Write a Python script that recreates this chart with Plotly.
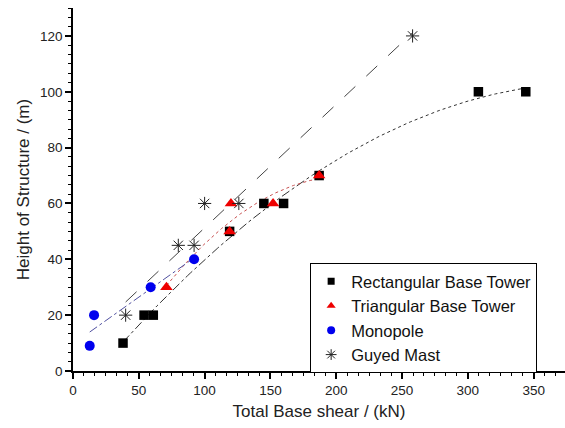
import numpy as np
import plotly.graph_objects as go

# ---- data ----
rect_x = [38, 54, 61, 119, 145, 160, 187, 308, 344]
rect_y = [10, 20, 20, 50, 60, 60, 70, 100, 100]
tri_x = [71, 119, 120, 152, 187]
tri_y = [30, 50, 60, 60, 70]
mono_x = [12.7, 16, 59, 92]
mono_y = [9, 20, 30, 40]
guy_x = [40, 80, 92, 100, 126, 258]
guy_y = [20, 45, 45, 60, 60, 120]

x_ticks = [0, 50, 100, 150, 200, 250, 300, 350]
y_ticks = [0, 20, 40, 60, 80, 100, 120]

FONT = "Liberation Sans, Arial, sans-serif"

def fit(xs, ys, deg, n=120):
    c = np.polyfit(xs, ys, deg)
    xx = np.linspace(min(xs), max(xs), n)
    return xx, np.polyval(c, xx)

fig = go.Figure()

# fitted trend lines
rx, ry = fit(rect_x, rect_y, 2)
split = rect_x[6]
lo = rx <= split
fig.add_trace(go.Scatter(x=rx[lo], y=ry[lo], mode="lines", xaxis="x2", yaxis="y2",
                         line=dict(color="#333333", width=1, dash="dashdot"), showlegend=False, hoverinfo="skip"))
fig.add_trace(go.Scatter(x=rx[~lo], y=ry[~lo], mode="lines", xaxis="x2", yaxis="y2",
                         line=dict(color="#333333", width=1, dash="dot"), showlegend=False, hoverinfo="skip"))
tx, ty = fit(tri_x, tri_y, 2)
fig.add_trace(go.Scatter(x=tx, y=ty, mode="lines", xaxis="x2", yaxis="y2",
                         line=dict(color="#c85050", width=1, dash="dot"), showlegend=False, hoverinfo="skip"))
mx, my = fit(mono_x, mono_y, 1)
fig.add_trace(go.Scatter(x=mx, y=my, mode="lines", xaxis="x2", yaxis="y2",
                         line=dict(color="#5050a0", width=1, dash="dashdot"), showlegend=False, hoverinfo="skip"))
gx, gy = fit(guy_x, guy_y, 1)
fig.add_trace(go.Scatter(x=gx, y=gy, mode="lines", xaxis="x2", yaxis="y2",
                         line=dict(color="#444444", width=1, dash="longdash"), showlegend=False, hoverinfo="skip"))

# data markers
fig.add_trace(go.Scatter(x=rect_x, y=rect_y, mode="markers", xaxis="x2", yaxis="y2", showlegend=False,
                         marker=dict(symbol="square", size=9.5, color="black")))
fig.add_trace(go.Scatter(x=tri_x, y=tri_y, mode="markers", xaxis="x2", yaxis="y2", showlegend=False,
                         marker=dict(symbol="triangle-up", size=11, color="#ee0000")))
fig.add_trace(go.Scatter(x=mono_x, y=mono_y, mode="markers", xaxis="x2", yaxis="y2", showlegend=False,
                         marker=dict(symbol="circle", size=10, color="#0000ee")))
fig.add_trace(go.Scatter(x=guy_x, y=guy_y, mode="markers", xaxis="x2", yaxis="y2", showlegend=False,
                         marker=dict(symbol="asterisk-open", size=11, color="#222222",
                                     line=dict(color="#222222", width=1))))

# legend entries
for name, sym, col, sz in [("Rectangular Base Tower", "square", "black", 7),
                           ("Triangular Base Tower", "triangle-up", "#ee0000", 8),
                           ("Monopole", "circle", "#0000ee", 8),
                           ("Guyed Mast", "asterisk-open", "#222222", 9)]:
    mk = dict(symbol=sym, size=sz, color=col)
    if sym == "asterisk-open":
        mk["line"] = dict(color=col, width=1)
    fig.add_trace(go.Scatter(x=[None], y=[None], mode="markers", xaxis="x2", yaxis="y2",
                             name=name, marker=mk))

XR = [0, 373.8]
YR = [0, 130]

fig.update_layout(
    width=565, height=428,
    margin=dict(l=73, r=0, t=8, b=57),
    paper_bgcolor="white", plot_bgcolor="white",
    font=dict(family=FONT, size=14, color="#222222"),
    xaxis=dict(range=XR, side="top", showline=True, linecolor="#a0a0a0", linewidth=1.5,
               showgrid=True, gridcolor="#d6d6d6", gridwidth=1, tick0=0, dtick=50/3,
               showticklabels=False, ticks="", zeroline=False, fixedrange=True),
    yaxis=dict(range=YR, showline=False, showgrid=True, gridcolor="#d6d6d6", gridwidth=1,
               tick0=0, dtick=20/3, showticklabels=False, ticks="", zeroline=False),
    xaxis2=dict(range=XR, overlaying="x", anchor="y2", side="bottom", showgrid=False, zeroline=False,
                tickmode="array", tickvals=x_ticks, ticktext=[str(v) for v in x_ticks],
                ticks="outside", ticklen=6, tickwidth=1.5, tickcolor="black",
                showline=True, linecolor="black", linewidth=1.5,
                minor=dict(tickmode="linear", tick0=0, dtick=50/6, ticks="outside", ticklen=3,
                           tickwidth=1, tickcolor="black", showgrid=False),
                tickfont=dict(size=13.5, color="#222222"),
                title=dict(text="Total Base shear / (kN)", font=dict(size=17, color="#222222"), standoff=8)),
    yaxis2=dict(range=YR, overlaying="y", anchor="x2", side="left", showgrid=False, zeroline=False,
                tickmode="array", tickvals=y_ticks, ticktext=[str(v) for v in y_ticks],
                ticks="outside", ticklen=6, tickwidth=1.5, tickcolor="black",
                showline=True, linecolor="black", linewidth=1.5,
                minor=dict(tickmode="linear", tick0=0, dtick=20/6, ticks="outside", ticklen=3,
                           tickwidth=1, tickcolor="black", showgrid=False),
                tickfont=dict(size=13.5, color="#222222"),
                title=dict(text="Height of Structure / (m)", font=dict(size=17, color="#222222"), standoff=6)),
    legend=dict(x=0.482, y=0.2975, xanchor="left", yanchor="top",
                bgcolor="white", bordercolor="black", borderwidth=1,
                font=dict(size=16.5, color="#111111"), tracegroupgap=0, itemwidth=30),
    showlegend=True,
)

fig.write_html("out.html")
